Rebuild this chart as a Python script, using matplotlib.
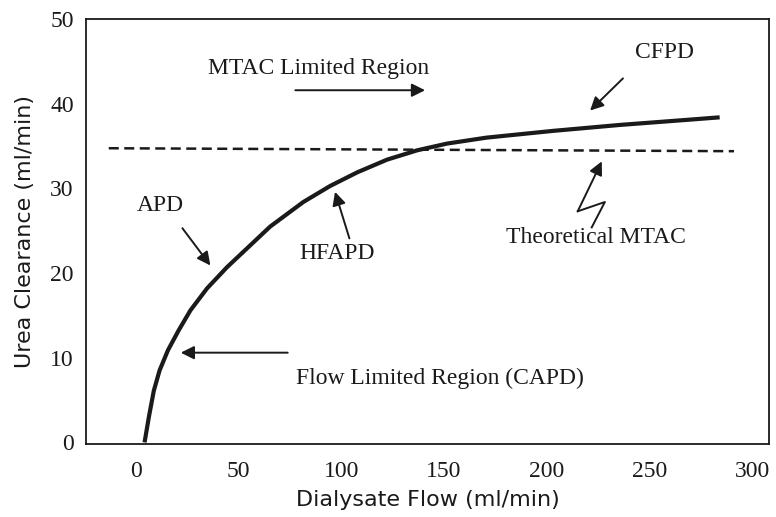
import matplotlib
matplotlib.use("Agg")
import matplotlib.pyplot as plt

# Data
flow = [4.4, 6.5, 8.9, 11.7, 15.8, 20.9, 26.7, 34.8, 44.5, 55.0, 65.5, 81.6, 94.7,
        107.8, 122.3, 136.9, 151.5, 170.6, 203, 235.4, 268, 284]
clearance = [0, 3.0, 6.1, 8.5, 10.9, 13.2, 15.6, 18.2, 20.7, 23.1, 25.5, 28.4, 30.3,
             31.9, 33.4, 34.5, 35.3, 36.0, 36.8, 37.5, 38.1, 38.4]
mtac_x = [-13, 291]
mtac_y = [34.75, 34.4]
xticks = [0, 50, 100, 150, 200, 250, 300]
yticks = [0, 10, 20, 30, 40, 50]
zig_x = [221.8, 228.2, 215.0]
zig_y = [25.4, 28.4, 27.3]

serif = "Liberation Serif"
sans = "DejaVu Sans"
ink = "#1a1a1a"

fig = plt.figure(figsize=(7.76, 5.17), dpi=100)
ax = fig.add_axes([0.111, 0.141, 0.880, 0.822])

ax.plot(flow, clearance, color=ink, lw=3.0, solid_capstyle="butt", solid_joinstyle="round")
ax.plot(mtac_x, mtac_y, color=ink, lw=1.8, linestyle=(0, (4, 2.2)))

ax.set_xlim(-24, 308)
ax.set_ylim(-0.2, 50)
ax.set_xticks(xticks)
ax.set_yticks(yticks)
ax.tick_params(length=0, labelsize=17, colors=ink)
ax.tick_params(axis="x", pad=12)
ax.tick_params(axis="y", pad=9)
for lab in ax.get_xticklabels() + ax.get_yticklabels():
    lab.set_fontfamily(serif)
for s in ax.spines.values():
    s.set_linewidth(1.3)
    s.set_color(ink)

ax.set_xlabel("Dialysate Flow (ml/min)", fontsize=16, family=sans, color=ink, labelpad=6)
ax.set_ylabel("Urea Clearance (ml/min)", fontsize=16, family=sans, color=ink, labelpad=11)

ap = dict(arrowstyle="-|>", lw=1.4, color=ink, mutation_scale=20, shrinkA=0, shrinkB=0)
tk = dict(fontsize=17, family=serif, color=ink, ha="center", va="center")

ax.text(88.8, 44.2, "MTAC Limited Region", **tk)
ax.annotate("", xy=(140.8, 41.6), xytext=(77.7, 41.6), arrowprops=ap)

ax.text(257, 46.0, "CFPD", **tk)
ax.annotate("", xy=(221, 39.2), xytext=(237, 43.0), arrowprops=ap)

ax.text(12, 28.0, "APD", **tk)
ax.annotate("", xy=(36.4, 20.9), xytext=(22.8, 25.3), arrowprops=ap)

ax.text(98, 22.3, "HFAPD", **tk)
ax.annotate("", xy=(97, 29.6), xytext=(104, 24.1), arrowprops=ap)

ax.text(148, 7.6, "Flow Limited Region (CAPD)", **tk)
ax.annotate("", xy=(22, 10.6), xytext=(74, 10.6), arrowprops=ap)

ax.text(224, 24.2, "Theoretical MTAC", **tk)
ax.plot(zig_x, zig_y, color=ink, lw=1.4)
ax.annotate("", xy=(226.7, 33.2), xytext=(zig_x[-1], zig_y[-1]), arrowprops=ap)

fig.savefig("out.png", dpi=100)
